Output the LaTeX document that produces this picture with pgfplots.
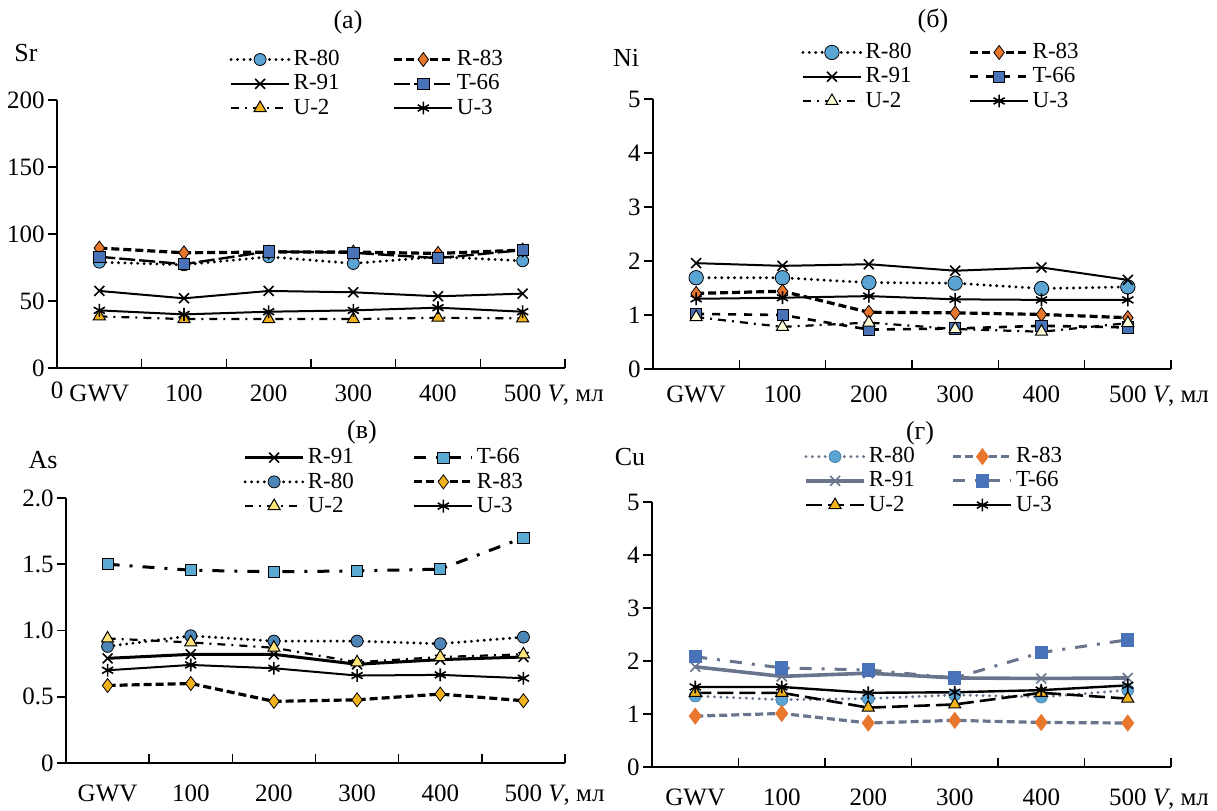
\documentclass[border=0pt]{standalone}
\usepackage{fontspec}
\setmainfont{Liberation Serif}
\usepackage{pgfplots}
\pgfplotsset{compat=1.18}

\definecolor{cblue}{HTML}{5BA5D5}
\definecolor{corange}{HTML}{E8762D}
\definecolor{csq}{HTML}{4A72B8}
\definecolor{cgold}{HTML}{F2B21C}
\definecolor{ccream}{HTML}{FFFFDC}
\definecolor{clblue}{HTML}{5BAAD2}
\definecolor{csteel}{HTML}{4F86B8}
\definecolor{cyel}{HTML}{FFE47A}
\definecolor{cgray}{HTML}{68758C}

\pgfplotsset{
  panel/.style={
    scale only axis,
    axis x line*=bottom, axis y line*=left,
    axis line style={line width=0.8pt},
    xmin=0, xmax=6,
    xtick={1,...,6}, xticklabels={},
    extra x ticks={0.5,1.5,...,5.5},
    extra x tick labels={GWV,100,200,300,400,{500\rlap{ \textit{V}, мл}}},
    extra x tick style={major tick length=0pt},
    tick align=outside,
    major tick length=4.5pt,
    xtick style={yshift=4.5pt},
    tick style={black, line width=0.8pt},
    /pgf/number format/assume math mode=true,
    tick label style={font=\fontsize{12.5}{14}\selectfont},
    xticklabel style={yshift=-5pt},
    yticklabel style={inner xsep=1.5pt},
    legend columns=2,
    legend cell align=left,
    legend style={draw=none, fill=none, anchor=north west,
      font=\fontsize{11.5}{12}\selectfont,
      nodes={inner xsep=1.5pt, inner ysep=1pt}, row sep=1pt},
    legend image code/.code={\draw[mark repeat=2,mark phase=2,##1]
      plot coordinates {(0pt,0pt)(14.5pt,0pt)(29pt,0pt)};},
  },
  lowpanel/.style={xticklabel style={yshift=-2.5pt}},
  pdot/.style={line width=1.6pt, line cap=round, dash pattern=on 0pt off 3.2pt},
  pdash/.style={line width=1.6pt, dash pattern=on 4pt off 2pt},
  pdashdot/.style={line width=1.1pt, dash pattern=on 4pt off 3pt on 1pt off 3pt},
  mcirc/.style={mark=*, mark size=3pt, mark options={solid, line cap=butt, draw=black, line width=0.4pt, fill=#1}},
  mdiam/.style={mark=diamond*, mark size=3.5pt, mark options={solid, draw=black, line width=0.4pt, fill=#1}},
  msq/.style={mark=square*, mark size=2.8pt, mark options={solid, draw=black, line width=0.4pt, fill=#1}},
  mtri/.style={mark=triangle*, mark size=3.5pt, mark options={solid, draw=black, line width=0.5pt, fill=#1}},
  mx/.style={mark=x, mark size=3.5pt, mark options={solid, line width=0.8pt}},
  mast/.style={mark=asterisk, mark size=3.2pt, mark options={solid, line width=0.8pt}},
}

\begin{document}
\begin{tikzpicture}

% (а) Sr
\begin{axis}[panel, at={(28.5pt,221pt)}, anchor=south west,
  width=254pt, height=134pt, ymin=0, ymax=200, ytick={0,50,...,200},
  legend style={at={(0.327,1.209)},
    /tikz/every even column/.append style={column sep=25pt}}]
\addplot[black, pdot, mcirc=cblue] coordinates {(0.5,79) (1.5,77) (2.5,83) (3.5,78) (4.5,83) (5.5,80)};
\addlegendentry{R-80}
\addplot[black, pdash, mdiam=corange] coordinates {(0.5,89.5) (1.5,86) (2.5,86.5) (3.5,86.5) (4.5,85.5) (5.5,88)};
\addlegendentry{R-83}
\addplot[black, line width=1pt, mx] coordinates {(0.5,57.5) (1.5,52) (2.5,57.5) (3.5,56.5) (4.5,53.5) (5.5,55.5)};
\addlegendentry{R-91}
\addplot[black, line width=1.2pt, dash pattern=on 8pt off 2pt, msq=csq] coordinates {(0.5,83) (1.5,77.5) (2.5,87) (3.5,86) (4.5,82) (5.5,88)};
\addlegendentry{T-66}
\addplot[black, pdashdot, mtri=cgold] coordinates {(0.5,38.5) (1.5,36.5) (2.5,36.5) (3.5,36.5) (4.5,37.5) (5.5,37)};
\addlegendentry{U-2}
\addplot[black, line width=1pt, mast] coordinates {(0.5,43) (1.5,40) (2.5,42) (3.5,43) (4.5,45) (5.5,42)};
\addlegendentry{U-3}
\end{axis}

% (б) Ni
\begin{axis}[panel, at={(326.5pt,220.5pt)}, anchor=south west,
  width=259pt, height=135pt, ymin=0, ymax=5, ytick={0,1,...,5},
  legend style={at={(0.274,1.23)},
    /tikz/every even column/.append style={column sep=27pt}}]
\addplot[black, pdot, mcirc=cblue, mark size=3.6pt] coordinates {(0.5,1.69) (1.5,1.69) (2.5,1.60) (3.5,1.59) (4.5,1.49) (5.5,1.52)};
\addlegendentry{R-80}
\addplot[black, pdash, mdiam=corange] coordinates {(0.5,1.40) (1.5,1.44) (2.5,1.05) (3.5,1.04) (4.5,1.01) (5.5,0.95)};
\addlegendentry{R-83}
\addplot[black, line width=1pt, mx] coordinates {(0.5,1.96) (1.5,1.91) (2.5,1.94) (3.5,1.82) (4.5,1.88) (5.5,1.65)};
\addlegendentry{R-91}
\addplot[black, line width=1.3pt, dash pattern=on 4pt off 4pt, msq=csq] coordinates {(0.5,1.02) (1.5,1.00) (2.5,0.73) (3.5,0.75) (4.5,0.80) (5.5,0.77)};
\addlegendentry{T-66}
\addplot[black, pdashdot, mtri=ccream] coordinates {(0.5,0.96) (1.5,0.78) (2.5,0.86) (3.5,0.74) (4.5,0.69) (5.5,0.85)};
\addlegendentry{U-2}
\addplot[black, line width=1pt, mast] coordinates {(0.5,1.30) (1.5,1.32) (2.5,1.35) (3.5,1.29) (4.5,1.28) (5.5,1.28)};
\addlegendentry{U-3}
\end{axis}

% (в) As
\begin{axis}[panel, lowpanel, at={(33pt,23.5pt)}, anchor=south west,
  width=249.5pt, height=132.5pt, ymin=0, ymax=2, ytick={0,0.5,1,1.5,2},
  yticklabels={0,0.5,1.0,1.5,2.0},
  legend style={at={(0.343,1.211)},
    /tikz/every even column/.append style={column sep=28pt}}]
\addplot[black, line width=1.5pt, mx] coordinates {(0.5,0.79) (1.5,0.82) (2.5,0.82) (3.5,0.745) (4.5,0.78) (5.5,0.80)};
\addlegendentry{R-91}
\addplot[black, line width=1.5pt, dash pattern=on 6pt off 5pt on 1.5pt off 5pt, msq=clblue] coordinates {(0.5,1.50) (1.5,1.455) (2.5,1.443) (3.5,1.45) (4.5,1.463) (5.5,1.70)};
\addlegendentry{T-66}
\addplot[black, pdot, mcirc=csteel] coordinates {(0.5,0.88) (1.5,0.96) (2.5,0.92) (3.5,0.92) (4.5,0.90) (5.5,0.95)};
\addlegendentry{R-80}
\addplot[black, pdash, mdiam=cgold] coordinates {(0.5,0.585) (1.5,0.60) (2.5,0.465) (3.5,0.477) (4.5,0.52) (5.5,0.47)};
\addlegendentry{R-83}
\addplot[black, pdashdot, mtri=cyel] coordinates {(0.5,0.94) (1.5,0.91) (2.5,0.87) (3.5,0.76) (4.5,0.80) (5.5,0.82)};
\addlegendentry{U-2}
\addplot[black, line width=1pt, mast] coordinates {(0.5,0.70) (1.5,0.74) (2.5,0.715) (3.5,0.66) (4.5,0.665) (5.5,0.64)};
\addlegendentry{U-3}
\end{axis}

% (г) Cu
\begin{axis}[panel, lowpanel, at={(326pt,21.5pt)}, anchor=south west,
  width=259.5pt, height=132.5pt, ymin=0, ymax=5, ytick={0,1,...,5},
  legend style={at={(0.281,1.23)},
    /tikz/every even column/.append style={column sep=17pt}}]
\addplot[cgray, pdot, mark=*, mark size=3pt, mark options={solid, draw=cblue!70!black, line width=0.3pt, fill=cblue}] coordinates {(0.5,1.34) (1.5,1.27) (2.5,1.29) (3.5,1.36) (4.5,1.32) (5.5,1.45)};
\addlegendentry{R-80}
\addplot[cgray, pdash, mark=diamond*, mark size=3pt, mark options={solid, draw=corange, fill=corange}] coordinates {(0.5,0.96) (1.5,1.01) (2.5,0.83) (3.5,0.88) (4.5,0.84) (5.5,0.83)};
\addlegendentry{R-83}
\addplot[cgray, line width=1.8pt, mark=x, mark size=3.5pt, mark options={solid, line width=0.8pt}] coordinates {(0.5,1.89) (1.5,1.71) (2.5,1.77) (3.5,1.68) (4.5,1.67) (5.5,1.68)};
\addlegendentry{R-91}
\addplot[cgray, line width=1.5pt, dash pattern=on 6pt off 5pt on 1.5pt off 5pt, mark=square*, mark size=2.6pt, mark options={solid, draw=csq, fill=csq}] coordinates {(0.5,2.08) (1.5,1.87) (2.5,1.83) (3.5,1.68) (4.5,2.16) (5.5,2.40)};
\addlegendentry{T-66}
\addplot[black, line width=1.3pt, dash pattern=on 8pt off 3pt, mtri=cgold] coordinates {(0.5,1.40) (1.5,1.40) (2.5,1.12) (3.5,1.18) (4.5,1.40) (5.5,1.29)};
\addlegendentry{U-2}
\addplot[black, line width=1.2pt, mast] coordinates {(0.5,1.51) (1.5,1.51) (2.5,1.40) (3.5,1.41) (4.5,1.45) (5.5,1.54)};
\addlegendentry{U-3}
\end{axis}

\begin{scope}[font=\fontsize{13}{15}\selectfont]
\node at (174pt,394pt) {(а)};
\node at (466.5pt,394.5pt) {(б)};
\node at (181pt,189pt) {(в)};
\node at (460pt,188.5pt) {(г)};
\node at (13pt,378.5pt) {Sr};
\node at (313pt,376pt) {Ni};
\node at (21.5pt,175pt) {As};
\node at (315pt,176.5pt) {Cu};
\node[font=\fontsize{12.5}{14}\selectfont] at (28.5pt,210pt) {0};
\end{scope}

\pgfresetboundingbox
\path[use as bounding box] (0pt,0pt) rectangle (608.5pt,405pt);
\end{tikzpicture}
\end{document}
